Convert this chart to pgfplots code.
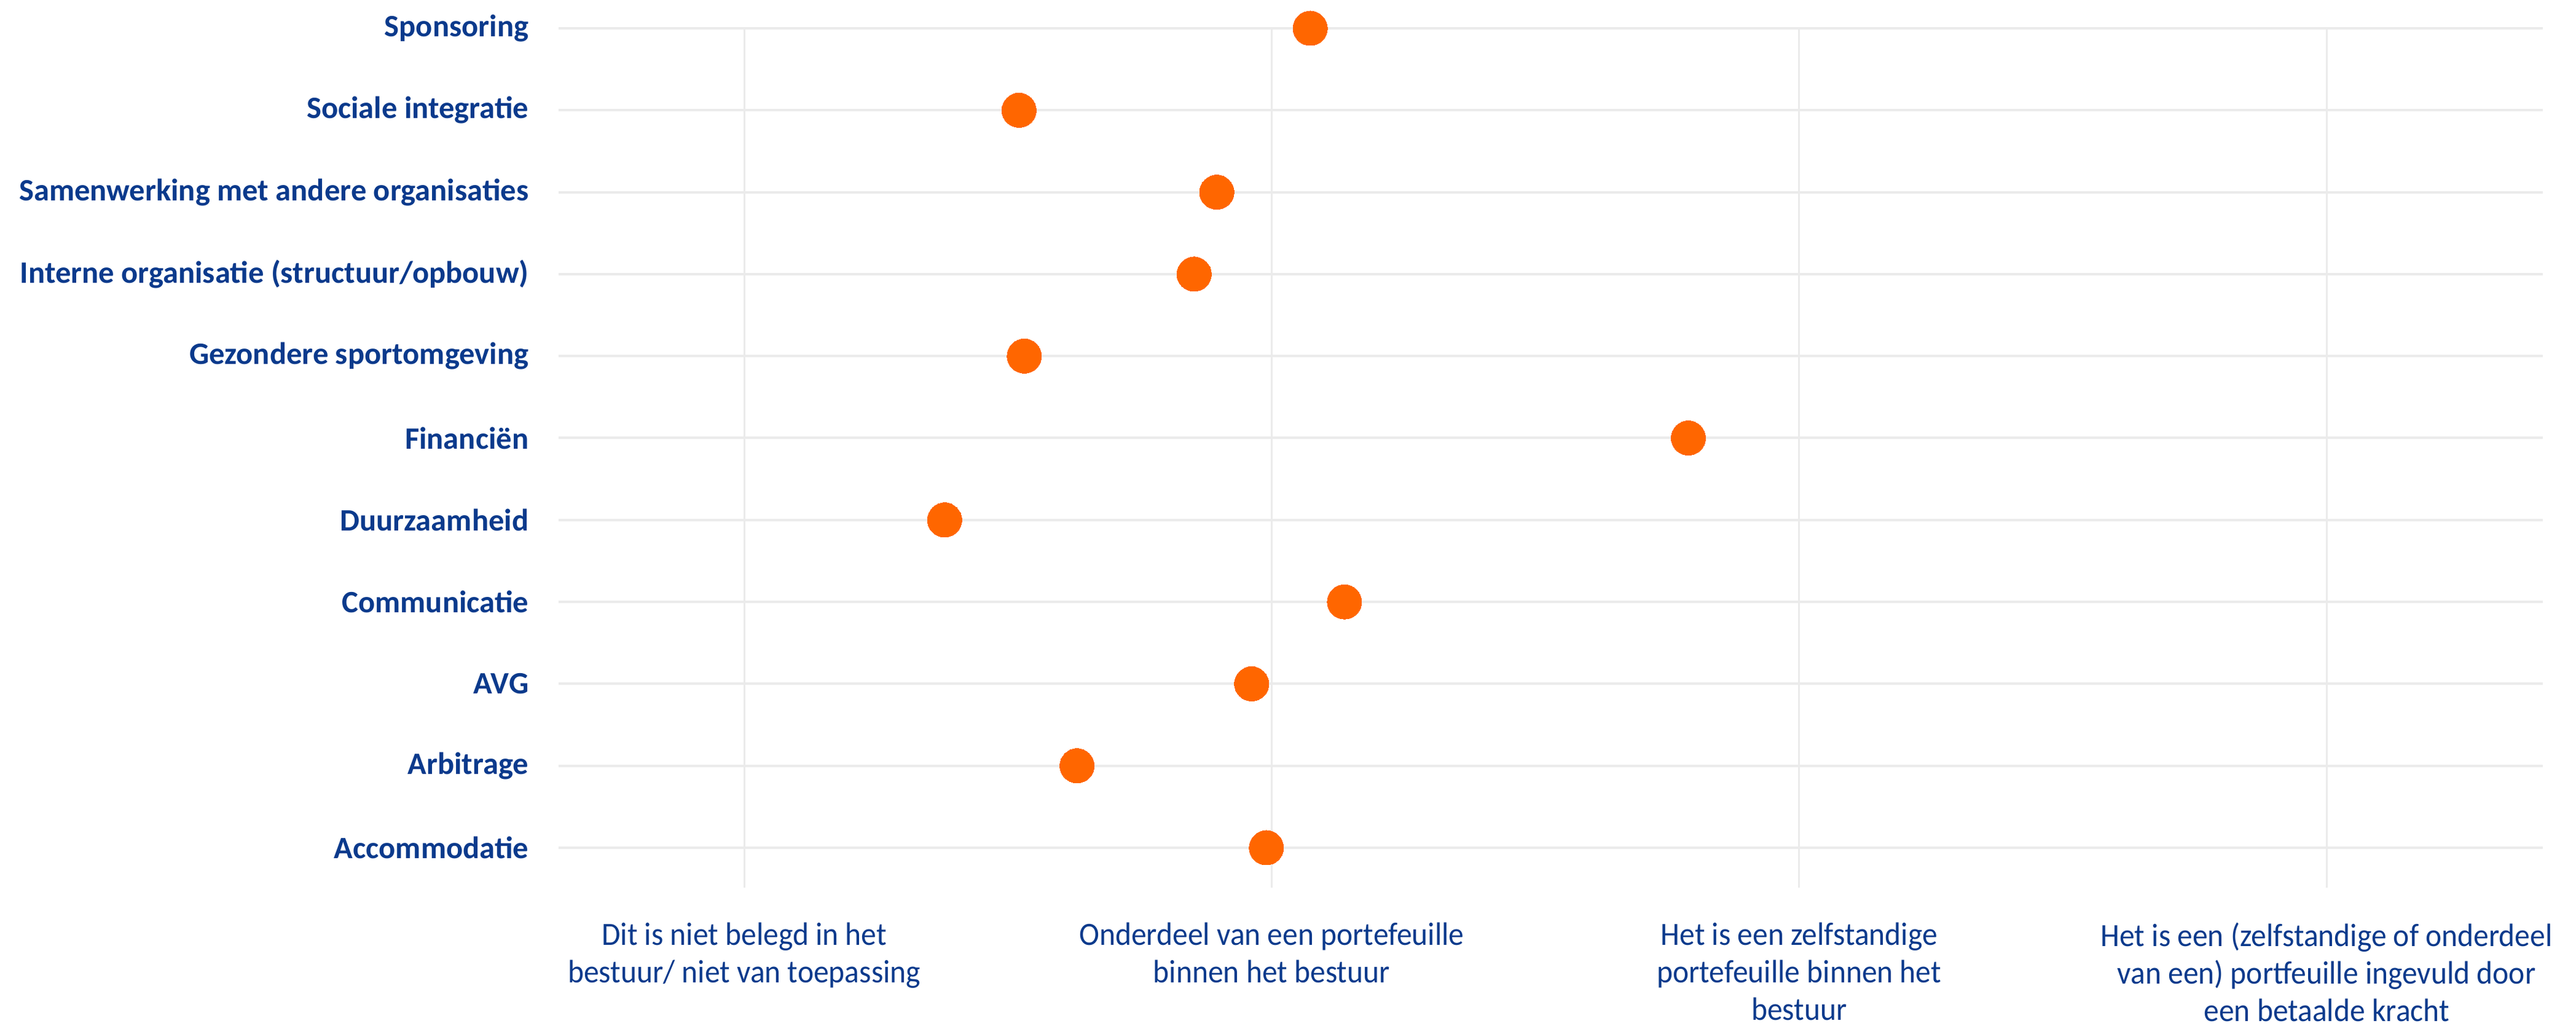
\documentclass[border=0pt]{standalone}
\usepackage{fontspec}
\setmainfont{Carlito}
\newfontfamily\catfont{Carlito}
\newfontfamily\labfont[FakeStretch=0.94]{Carlito}
\usepackage{pgfplots}
\pgfplotsset{compat=1.18}

\definecolor{navy}{HTML}{0B3A8C}
\definecolor{dotorange}{HTML}{FF6600}
\definecolor{gridgray}{HTML}{EBEBEB}

\begin{document}
\begin{tikzpicture}
\begin{axis}[
    scale only axis,
    width=32.29cm,
    height=13.98cm,
    xmin=0.648, xmax=4.41,
    ymin=-0.488, ymax=10,
    clip=false,
    axis line style={draw=none},
    major tick length=0pt,
    xtick={1,2,3,4},
    xticklabels={
        {Dit is niet belegd in het\\bestuur/ niet van toepassing},
        {Onderdeel van een portefeuille\\binnen het bestuur},
        {Het is een zelfstandige\\portefeuille binnen het\\bestuur},
        {Het is een (zelfstandige of onderdeel\\van een) portfeuille ingevuld door\\een betaalde kracht}},
    ytick={0,...,10},
    yticklabels={Accommodatie, Arbitrage, AVG, Communicatie, Duurzaamheid,
        Financiën, Gezondere sportomgeving,
        Interne organisatie (structuur/opbouw),
        Samenwerking met andere organisaties,
        Sociale integratie, Sponsoring},
    xticklabel style={anchor=north, inner sep=0pt, yshift=-0.56cm,
        align=center, text=navy,
        font={\labfont\fontsize{15}{17.4}\selectfont}},
    yticklabel style={anchor=east, inner sep=0pt, xshift=-0.48cm,
        text=navy, font={\catfont\bfseries\fontsize{14.4}{16}\selectfont}},
    xmajorgrids, ymajorgrids,
    x grid style={gridgray, line width=0.85pt},
    y grid style={gridgray, line width=1.15pt},
]
\addplot[only marks, color=dotorange, mark=*, mark size=0.28cm,
    mark options={draw=dotorange, fill=dotorange, line width=0pt}] coordinates {
    (1.990,0)
    (1.631,1)
    (1.962,2)
    (2.138,3)
    (1.380,4)
    (2.790,5)
    (1.531,6)
    (1.853,7)
    (1.896,8)
    (1.521,9)
    (2.073,10)
};
\end{axis}
\pgfresetboundingbox
\path[use as bounding box] (-9.09cm,-2.24cm) rectangle (32.83cm,14.44cm);
\end{tikzpicture}
\end{document}
